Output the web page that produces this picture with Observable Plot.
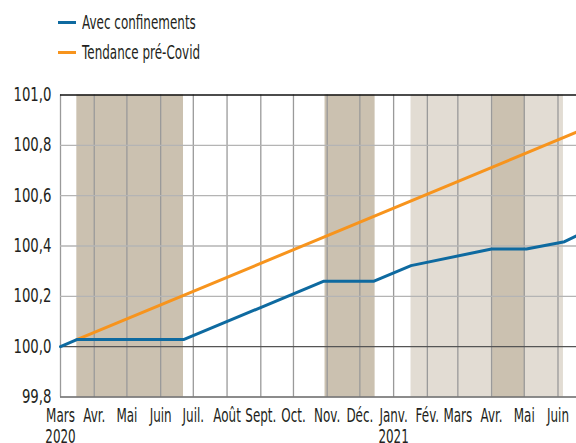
<!DOCTYPE html>
<html>
<head>
<meta charset="utf-8">
<script src="https://cdn.jsdelivr.net/npm/d3@7"></script>
<script src="https://cdn.jsdelivr.net/npm/@observablehq/plot@0.6"></script>
<style>
  html, body { margin: 0; padding: 0; background: #fff; }
  body { width: 576px; height: 443px; overflow: hidden; font-family: "DejaVu Sans", sans-serif; color: #231f20; }
  #legend { position: relative; height: 75px; width: 576px; }
  .item { position: absolute; left: 58px; display: flex; align-items: center; font-size: 19px; line-height: 20px; white-space: nowrap; }
  .sw { width: 18px; height: 3px; margin-right: 6px; flex: none; }
  .lt { display: inline-block; transform: scaleX(0.63); transform-origin: 0 50%; }
  #chart svg { display: block; }
</style>
</head>
<body>
<div id="legend"></div>
<div id="chart"></div>
<script>
// ---- data ----
const seriesNames = ["Avec confinements", "Tendance pré-Covid"];
const seriesColors = ["#0e6aa0", "#f7941d"];

const blueDates = ["2020-03-01","2020-03-16","2020-06-22","2020-10-29","2020-12-14","2021-01-17","2021-04-01","2021-05-03","2021-06-07","2021-06-18"];
const blueValues = [100.0, 100.028, 100.028, 100.26, 100.26, 100.322, 100.388, 100.388, 100.417, 100.44];

const orangeDates = ["2020-03-16", "2021-06-18"];
const orangeValues = [100.028, 100.852];

const darkStart = ["2020-03-16", "2020-10-30", "2021-04-02"];
const darkEnd   = ["2020-06-22", "2020-12-15", "2021-05-02"];
const lightStart = ["2021-01-17"];
const lightEnd   = ["2021-06-06"];

const monthTicks = ["2020-03-01","2020-04-01","2020-05-01","2020-06-01","2020-07-01","2020-08-01","2020-09-01","2020-10-01","2020-11-01","2020-12-01","2021-01-01","2021-02-01","2021-03-01","2021-04-01","2021-05-01","2021-06-01"];
const monthLabels = ["Mars\n2020","Avr.","Mai","Juin","Juil.","Août","Sept.","Oct.","Nov.","Déc.","Janv.\n2021","Fév.","Mars","Avr.","Mai","Juin"];
const yTicks = [99.8, 100.0, 100.2, 100.4, 100.6, 100.8, 101.0];
const xDomain = ["2020-03-01", "2021-06-18"];
const yDomain = [99.8, 101.0];

// ---- build ----
const P = s => new Date(s + "T00:00:00Z");
const blue = blueDates.map((d, i) => ({date: P(d), value: blueValues[i]}));
const orange = orangeDates.map((d, i) => ({date: P(d), value: orangeValues[i]}));
const dark = darkStart.map((d, i) => ({x1: P(d), x2: P(darkEnd[i])}));
const light = lightStart.map((d, i) => ({x1: P(d), x2: P(lightEnd[i])}));
const ticks = monthTicks.map(P);
const labelMap = new Map(ticks.map((t, i) => [+t, monthLabels[i]]));

const legend = document.getElementById("legend");
seriesNames.forEach((n, i) => {
  const div = document.createElement("div");
  div.className = "item";
  div.style.top = (i === 0 ? 12 : 42) + "px";
  div.innerHTML = `<span class="sw" style="background:${seriesColors[i]}"></span><span class="lt">${n}</span>`;
  legend.appendChild(div);
});

const plot = Plot.plot({
  width: 576,
  height: 368,
  marginTop: 19.5,
  marginBottom: 46.5,
  marginLeft: 60,
  marginRight: 0,
  style: { fontFamily: '"DejaVu Sans", sans-serif', fontSize: "19px", color: "#231f20", background: "#fff" },
  x: { type: "utc", domain: xDomain.map(P), label: null },
  y: { domain: yDomain, label: null },
  marks: [
    Plot.rect(light, { x1: "x1", x2: "x2", fill: "#e2dcd3" }),
    Plot.rect(dark, { x1: "x1", x2: "x2", fill: "#cbc1b0" }),
    Plot.ruleX(ticks, { stroke: "#9a9a9a", strokeWidth: 1.3 }),
    Plot.ruleY(yTicks.filter(v => v > 99.9 && v < 100.9 && v !== 100.0), { stroke: "#b4b4b4", strokeWidth: 1.3 }),
    Plot.ruleY([100.0], { stroke: "#555", strokeWidth: 1.3 }),
    Plot.ruleY([99.8], { stroke: "#666", strokeWidth: 1.5 }),
    Plot.ruleY([101.0], { stroke: "#111", strokeWidth: 1.5 }),
    Plot.line(orange, { x: "date", y: "value", stroke: seriesColors[1], strokeWidth: 3 }),
    Plot.line(blue, { x: "date", y: "value", stroke: seriesColors[0], strokeWidth: 3 }),
    Plot.axisY({ ticks: yTicks, tickSize: 0, tickPadding: 9, tickFormat: d => d.toFixed(1).replace(".", ","), fontSize: 19, label: null }),
    Plot.axisX({ ticks: ticks, tickSize: 0, tickPadding: 9, tickFormat: d => labelMap.get(+d), fontSize: 19, lineHeight: 1.15, label: null })
  ]
});
// condense the text glyphs horizontally around each label's anchor
const condense = (sel, k) => plot.querySelectorAll(sel).forEach(t => {
  const tr = t.getAttribute("transform") || "";
  t.setAttribute("transform", tr + ` scale(${k},1)`);
});
condense('g[aria-label="y-axis tick label"] text', 0.7);
condense('g[aria-label="x-axis tick label"] text', 0.63);
document.getElementById("chart").appendChild(plot);
</script>
</body>
</html>
